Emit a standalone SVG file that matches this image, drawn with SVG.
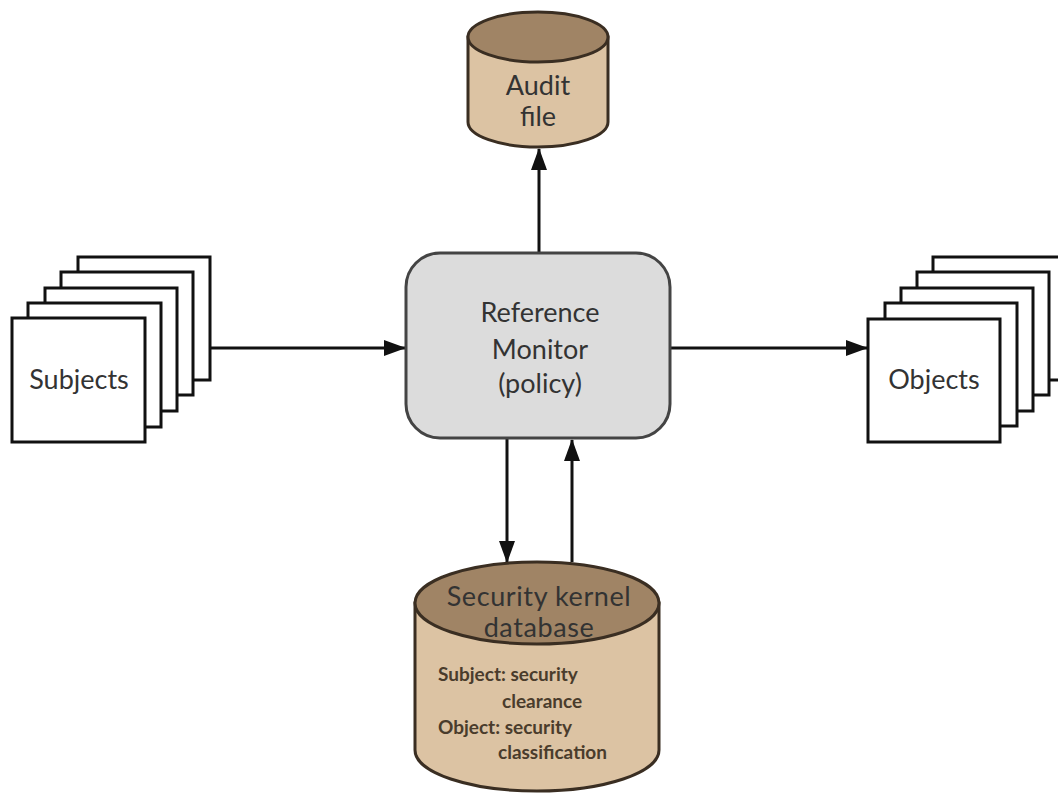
<svg xmlns="http://www.w3.org/2000/svg" width="1058" height="795" viewBox="0 0 1058 795">
<defs>
<marker id="arr" markerUnits="userSpaceOnUse" markerWidth="22" markerHeight="16" refX="21" refY="8" orient="auto">
<path d="M0,0 L22,8 L0,16 z" fill="#111"/>
</marker>
<style>
.page{fill:#fff;stroke:#111;stroke-width:3}
.lbl{font-family:Lato,"Open Sans","DejaVu Sans",sans-serif;fill:#333;text-anchor:middle}
.big{font-size:27px}
.small{font-family:Lato,"Open Sans","DejaVu Sans",sans-serif;font-size:19px;font-weight:bold;fill:#4a3c2c}
.body{fill:#dcc3a3;stroke:#3a2e22;stroke-width:3}
.top{fill:#a08465;stroke:#3a2e22;stroke-width:3}
.conn{stroke:#111;stroke-width:3;fill:none;marker-end:url(#arr)}
</style>
</defs>
<rect width="1058" height="795" fill="#fff"/>
<g id="connectors">
<line class="conn" x1="539" y1="253" x2="539" y2="149"/>
<line class="conn" x1="210" y1="348" x2="405" y2="348"/>
<line class="conn" x1="670" y1="348" x2="867" y2="348"/>
<line class="conn" x1="507" y1="439" x2="507" y2="562"/>
<line class="conn" x1="572" y1="562" x2="572" y2="440"/>
</g>
<g id="audit">
<path class="body" d="M468,37 L468,122 A70,25 0 0 0 608,122 L608,37 Z"/>
<ellipse class="top" cx="538" cy="37" rx="70" ry="25"/>
<text class="lbl big" x="538" y="95">Audit</text>
<text class="lbl big" x="538" y="126">file</text>
</g>
<g id="monitor">
<rect x="406" y="253" width="264" height="185" rx="34" fill="#dcdcdc" stroke="#444" stroke-width="3"/>
<text class="lbl big" x="540" y="322">Reference</text>
<text class="lbl big" x="540" y="359">Monitor</text>
<text class="lbl big" x="540" y="393">(policy)</text>
</g>
<g id="subjects">
<rect class="page" x="78" y="257" width="132" height="123"/>
<rect class="page" x="61" y="272" width="132" height="123"/>
<rect class="page" x="45" y="288" width="132" height="123"/>
<rect class="page" x="28" y="303" width="133" height="124"/>
<rect class="page" x="12" y="318" width="133" height="124"/>
<text class="lbl big" x="79" y="389">Subjects</text>
</g>
<g id="objects">
<rect class="page" x="933" y="257" width="132" height="123"/>
<rect class="page" x="917" y="272" width="132" height="123"/>
<rect class="page" x="901" y="288" width="132" height="123"/>
<rect class="page" x="885" y="303" width="132" height="123"/>
<rect class="page" x="868" y="319" width="132" height="123"/>
<text class="lbl big" x="934" y="389">Objects</text>
</g>
<g id="kernel-db">
<path class="body" d="M415,603 L415,750 A122,41 0 0 0 659,750 L659,603 Z"/>
<ellipse class="top" cx="537" cy="603" rx="122" ry="41"/>
<text class="lbl big" x="539" y="606" letter-spacing="0.6">Security kernel</text>
<text class="lbl big" x="539" y="637" letter-spacing="0.6">database</text>
<text class="small" x="438" y="681">Subject: security</text>
<text class="small" x="502" y="708">clearance</text>
<text class="small" x="438" y="734">Object: security</text>
<text class="small" x="498" y="759">classification</text>
</g>
</svg>
